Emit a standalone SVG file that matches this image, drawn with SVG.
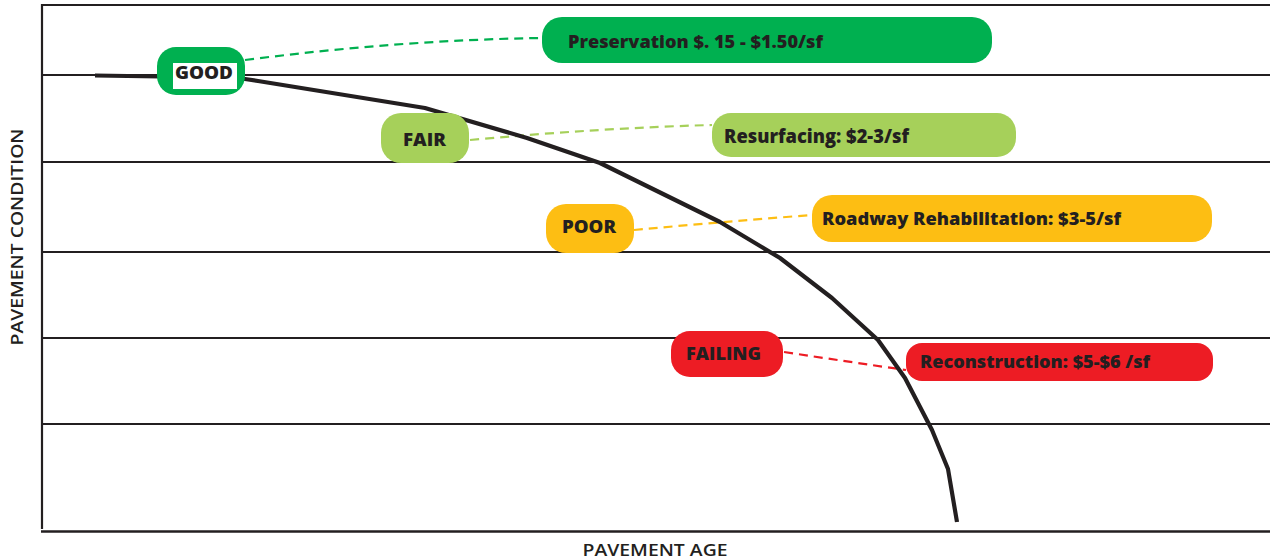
<svg xmlns="http://www.w3.org/2000/svg" width="1270" height="560" viewBox="0 0 1270 560">
<style>
.grid{stroke:#231f20;stroke-width:2.2;fill:none}
.curve{stroke:#231f20;stroke-width:4.2;fill:none;stroke-linejoin:round;stroke-linecap:butt}
.conn{fill:none;stroke-width:2.2;stroke-dasharray:9 6}
.lbl{font-family:"Open Sans","Liberation Sans",sans-serif;font-weight:800;fill:#231f20}
.axis{font-family:"Open Sans","Liberation Sans",Arial,sans-serif;font-weight:600;fill:#231f20;font-size:17px}
.g1{fill:#00b050}.g2{fill:#a6d05a}.y1{fill:#fdbe13}.r1{fill:#ed1c24}
</style>
<rect width="1270" height="560" fill="#ffffff"/>
<g id="axes">
<line class="grid" x1="41" y1="5" x2="1270" y2="5"/>
<line class="grid" x1="42" y1="4" x2="42" y2="529"/>
<line class="grid" x1="42" y1="75" x2="1270" y2="75"/>
<line class="grid" x1="42" y1="162" x2="1270" y2="162"/>
<line class="grid" x1="42" y1="252" x2="1270" y2="252"/>
<line class="grid" x1="42" y1="338" x2="1270" y2="338"/>
<line class="grid" x1="42" y1="424" x2="1270" y2="424"/>
<line class="grid" x1="41" y1="531.5" x2="1270" y2="531.5" style="stroke-width:2.6"/>
<text class="axis" x="655" y="556" text-anchor="middle" textLength="145" lengthAdjust="spacingAndGlyphs">PAVEMENT AGE</text>
<text class="axis" transform="translate(23,237) rotate(-90)" text-anchor="middle" textLength="217" lengthAdjust="spacingAndGlyphs">PAVEMENT CONDITION</text>
</g>
<g id="connectors">
<path class="conn" stroke="#00b050" d="M245,60 Q400,40 542,38"/>
<path class="conn" stroke="#a6d05a" d="M470,140 Q600,128 712,125"/>
<path class="conn" stroke="#fdbe13" d="M634,230 Q720,222 812,215"/>
<path class="conn" stroke="#ed1c24" d="M784,352 Q850,362 906,370"/>
</g>
<g id="curve">
<polyline class="curve" points="95,75.5 160,76.5 245,79 258,81 425,108 527,138 600,163 720,222 780,258 832,298 878,340 905,378 932,430 948,469 957,522"/>
</g>
<g id="node-good">
<rect class="g1" x="157" y="47" width="88" height="48" rx="19"/>
<rect x="173" y="63" width="64" height="26" fill="#ffffff"/>
<text class="lbl" x="204" y="79" font-size="17" text-anchor="middle" textLength="58" lengthAdjust="spacingAndGlyphs">GOOD</text>
</g>
<g id="node-preservation">
<rect class="g1" x="542" y="17" width="450" height="46" rx="20"/>
<text class="lbl" x="568" y="48" font-size="18" textLength="255" lengthAdjust="spacingAndGlyphs">Preservation $. 15 - $1.50/sf</text>
</g>
<g id="node-fair">
<rect class="g2" x="381" y="113" width="88" height="50" rx="20"/>
<text class="lbl" x="403" y="146" font-size="18" textLength="43" lengthAdjust="spacingAndGlyphs">FAIR</text>
</g>
<g id="node-resurfacing">
<rect class="g2" x="712" y="113" width="304" height="44" rx="19"/>
<text class="lbl" x="724" y="143" font-size="19" textLength="185" lengthAdjust="spacingAndGlyphs">Resurfacing: $2-3/sf</text>
</g>
<g id="node-poor">
<rect class="y1" x="546" y="204" width="88" height="49" rx="20"/>
<text class="lbl" x="562" y="233" font-size="18" textLength="54" lengthAdjust="spacingAndGlyphs">POOR</text>
</g>
<g id="node-rehab">
<rect class="y1" x="812" y="195" width="400" height="47" rx="20"/>
<text class="lbl" x="822" y="225" font-size="18" textLength="299" lengthAdjust="spacingAndGlyphs">Roadway Rehabilitation: $3-5/sf</text>
</g>
<g id="node-failing">
<rect class="r1" x="671" y="331" width="112" height="46" rx="19"/>
<text class="lbl" x="686" y="360" font-size="17" textLength="75" lengthAdjust="spacingAndGlyphs">FAILING</text>
</g>
<g id="node-reconstruction">
<rect class="r1" x="906" y="343" width="307" height="38" rx="16"/>
<text class="lbl" x="920" y="368" font-size="18" textLength="230" lengthAdjust="spacingAndGlyphs">Reconstruction: $5-$6 /sf</text>
</g>
</svg>
